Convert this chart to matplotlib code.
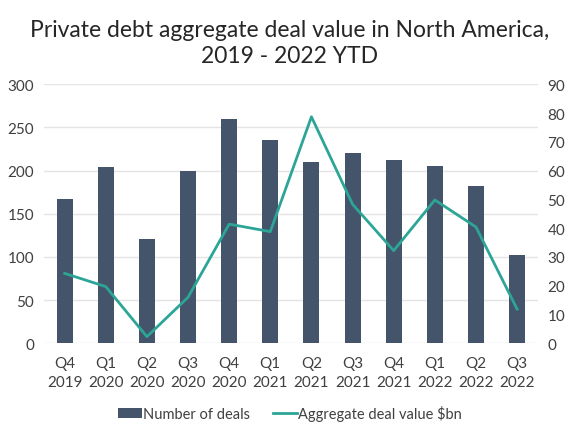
import matplotlib.pyplot as plt
import numpy as np

plt.rcParams['font.family'] = ['Lato', 'DejaVu Sans']

quarters = ["Q4\n2019", "Q1\n2020", "Q2\n2020", "Q3\n2020", "Q4\n2020", "Q1\n2021",
            "Q2\n2021", "Q3\n2021", "Q4\n2021", "Q1\n2022", "Q2\n2022", "Q3\n2022"]
deals = [167, 204, 121, 200, 260, 236, 210, 220, 212, 205, 182, 102]
value_bn = [24.3, 19.7, 2.3, 16.0, 41.4, 38.8, 78.7, 48.3, 32.2, 49.8, 40.4, 11.9]

bar_color = "#44546a"
line_color = "#2ca597"
text_color = "#404040"

fig = plt.figure(figsize=(5.8, 4.35), dpi=100)
ax = fig.add_axes([0.076, 0.2085, 0.851, 0.5955])
ax2 = ax.twinx()

x = np.arange(len(quarters))
bars = ax.bar(x, deals, width=0.39, color=bar_color, zorder=2, label="Number of deals")
line, = ax2.plot(x, value_bn, color=line_color, lw=2, zorder=3, label="Aggregate deal value $bn")

ax.set_xlim(-0.5, len(quarters) - 0.5)
ax.set_ylim(0, 300)
ax.set_yticks(range(0, 301, 50))
ax2.set_ylim(0, 90)
ax2.set_yticks(range(0, 91, 10))

ax.set_xticks(x)
ax.set_xticklabels(quarters, linespacing=1.45)
ax.grid(axis="y", color="#e4e4e4", lw=1, zorder=0)
ax.set_axisbelow(True)

for a in (ax, ax2):
    for s in a.spines.values():
        s.set_visible(False)
    a.tick_params(length=0, labelsize=11, colors=text_color)
ax.tick_params(axis="x", pad=9)
ax.tick_params(axis="y", pad=7)
ax2.tick_params(axis="y", pad=7)

fig.suptitle("Private debt aggregate deal value in North America,\n2019 - 2022 YTD",
             y=0.955, fontsize=16.5, color="#262626", linespacing=1.3)

fig.legend([bars, line], ["Number of deals", "Aggregate deal value $bn"],
           loc="center", bbox_to_anchor=(0.5, 0.048), ncol=2, frameon=False,
           fontsize=10.5, labelcolor=text_color, handlelength=1.6, handletextpad=0.1,
           columnspacing=1.6)

fig.savefig("out.png", dpi=100)
